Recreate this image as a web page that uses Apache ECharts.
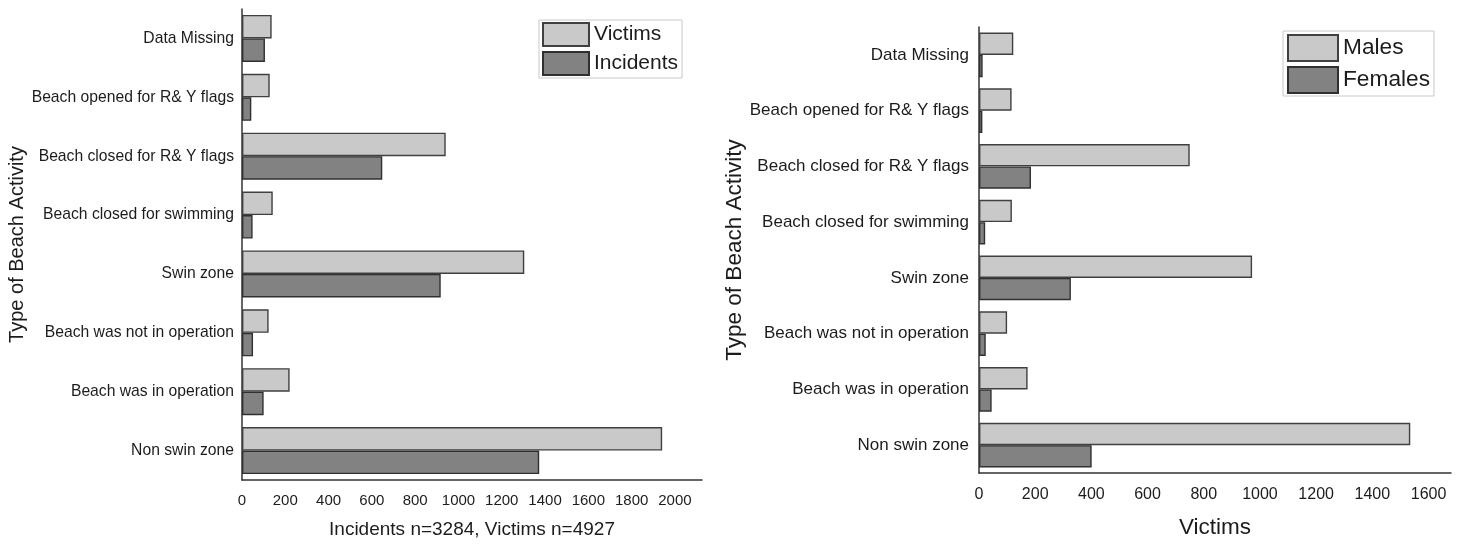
<!DOCTYPE html>
<html><head><meta charset="utf-8">
<script src="https://cdn.jsdelivr.net/npm/echarts@6/dist/echarts.min.js"></script>
<style>html,body{margin:0;padding:0;background:#fff}#c{width:1464px;height:544px}</style>
</head><body><div id="c"></div>
<script>
const categories = ["Data Missing","Beach opened for R& Y flags","Beach closed for R& Y flags","Beach closed for swimming","Swin zone","Beach was not in operation","Beach was in operation","Non swin zone"];
const victims   = [137, 128, 941, 142, 1304, 123, 220, 1941];
const incidents = [106, 43, 648, 49, 918, 51, 100, 1373];
const males     = [122, 116, 750, 117, 972, 100, 173, 1535];
const females   = [13, 12, 185, 22, 327, 24, 45, 401];
const leftTicks  = [0,200,400,600,800,1000,1200,1400,1600,1800,2000];
const rightTicks = [0,200,400,600,800,1000,1200,1400,1600];

const FONT = "Liberation Sans";
const TXT = "#1c1c1c";
const light = {color:"#c9c9c9", borderColor:"#404040", borderWidth:1.4};
const dark  = {color:"#828282", borderColor:"#303030", borderWidth:1.4};

const chart = echarts.init(document.getElementById('c'), null, {renderer:'canvas'});
function xAx(idx, max, ticks, name, gap, fs, nfs, margin){
  return {type:'value', gridIndex:idx, min:0, max:max, interval:200,
    axisLine:{show:true, lineStyle:{color:'#333', width:1.5}},
    axisTick:{show:false}, splitLine:{show:false},
    axisLabel:{customValues:ticks, color:TXT, fontFamily:FONT, fontSize:fs, margin:margin,
               formatter:function(v){return String(v);}},
    name:name, nameLocation:'middle', nameGap:gap,
    nameTextStyle:{color:TXT, fontFamily:FONT, fontSize:nfs}};
}
function yAx(idx, gap, fs, margin, nfs){
  return {type:'category', gridIndex:idx, data:categories, inverse:true,
    axisLine:{show:true, lineStyle:{color:'#333', width:1.5}},
    axisTick:{show:false}, splitLine:{show:false},
    axisLabel:{color:TXT, fontFamily:FONT, fontSize:fs, margin:margin, interval:0},
    name:'Type of Beach Activity', nameLocation:'middle', nameGap:gap, nameRotate:90,
    nameTextStyle:{color:TXT, fontFamily:FONT, fontSize:nfs}};
}
chart.setOption({
  animation:false,
  grid:[{left:242, top:9, width:460, height:471},
        {left:979, top:27, width:472, height:450}],
  xAxis:[xAx(0, 2125, leftTicks, 'Incidents n=3284, Victims n=4927', 40, 15, 19, 13),
         xAx(1, 1680, rightTicks, 'Victims', 43, 16, 22.5, 14)],
  yAxis:[yAx(0, 214, 15.7, 8, 20), yAx(1, 232, 17, 10, 22.5)],
  legend:[
    {data:['Victims','Incidents'], left:539, top:20, orient:'vertical', itemWidth:46, itemHeight:23, itemGap:4,
     padding:[2,4,2,3], borderColor:'#c8c8c8', borderWidth:1, icon:'rect',
     textStyle:{color:TXT, fontFamily:FONT, fontSize:21}},
    {data:['Males','Females'], left:1283, top:31, orient:'vertical', itemWidth:50, itemHeight:26, itemGap:4,
     padding:[3,4,2,4], borderColor:'#c8c8c8', borderWidth:1, icon:'rect',
     textStyle:{color:TXT, fontFamily:FONT, fontSize:22.7}}
  ],
  series:[
    {name:'Victims', type:'bar', xAxisIndex:0, yAxisIndex:0, data:victims, itemStyle:light, barGap:'0%', barCategoryGap:'20%'},
    {name:'Incidents', type:'bar', xAxisIndex:0, yAxisIndex:0, data:incidents, itemStyle:dark, barGap:'0%', barCategoryGap:'20%'},
    {name:'Males', type:'bar', xAxisIndex:1, yAxisIndex:1, data:males, itemStyle:light, barGap:'0%', barCategoryGap:'20%'},
    {name:'Females', type:'bar', xAxisIndex:1, yAxisIndex:1, data:females, itemStyle:dark, barGap:'0%', barCategoryGap:'20%'}
  ]
});
</script></body></html>
